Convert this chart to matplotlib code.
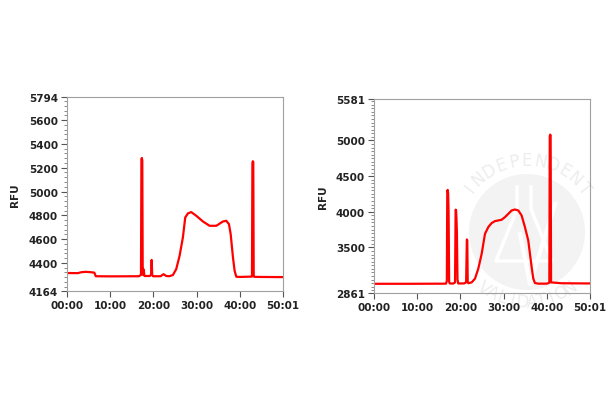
import numpy as np
import matplotlib.pyplot as plt
from matplotlib.patches import Circle
from matplotlib.ticker import MultipleLocator

# time in seconds, RFU values
t_left = [0, 150, 200, 260, 330, 380, 400, 600, 1000, 1028, 1034, 1040, 1046, 1052, 1060, 1068,
          1076, 1150, 1168, 1176, 1184, 1195, 1300, 1340, 1360, 1380, 1420, 1471, 1517, 1564,
          1610, 1643, 1680, 1726, 1796, 1889, 1981, 2074, 2167, 2213, 2250, 2274, 2306, 2329,
          2352, 2400, 2570, 2576, 2582, 2588, 2594, 2602, 2700, 2900, 3001]
y_left = [4315, 4314, 4322, 4325, 4322, 4318, 4288, 4287, 4288, 4300, 5270, 5282, 5260, 4300,
          4350, 4330, 4290, 4290, 4300, 4425, 4300, 4288, 4288, 4305, 4298, 4290, 4288, 4298,
          4347, 4459, 4614, 4782, 4816, 4827, 4796, 4748, 4712, 4712, 4748, 4754, 4726, 4642,
          4445, 4333, 4284, 4282, 4285, 5240, 5254, 5250, 4290, 4283, 4282, 4281, 4281]

t_right = [0, 500, 1000, 1012, 1018, 1024, 1030, 1036, 1044, 1052, 1100, 1126, 1134, 1140,
           1146, 1152, 1160, 1170, 1250, 1280, 1290, 1296, 1302, 1310, 1357, 1403, 1449, 1496,
           1542, 1588, 1634, 1681, 1727, 1773, 1820, 1866, 1912, 1958, 2005, 2051, 2097, 2143,
           2190, 2213, 2236, 2283, 2400, 2436, 2442, 2448, 2454, 2460, 2600, 2800, 3001]
y_right = [2990, 2990, 2992, 3030, 4290, 4307, 4260, 4000, 3020, 2995, 2993, 3010, 4030,
           4020, 3900, 3700, 3050, 2995, 2995, 3010, 3612, 3600, 3020, 2998, 3010, 3062, 3202,
           3411, 3691, 3785, 3841, 3869, 3878, 3888, 3925, 3971, 4018, 4032, 4018, 3948, 3785,
           3598, 3225, 3062, 3001, 2992, 2992, 3005, 5060, 5082, 5070, 3010, 2998, 2996, 2995]

x_ticks = [0, 600, 1200, 1800, 2400, 3001]
x_labels = ['00:00', '10:00', '20:00', '30:00', '40:00', '50:01']
yt_left = [4164, 4400, 4600, 4800, 5000, 5200, 5400, 5600, 5794]
yt_right = [2861, 3500, 4000, 4500, 5000, 5581]

plt.rcParams['font.family'] = 'DejaVu Sans'
plt.rcParams['font.weight'] = 'bold'

W = 610.0
H = 410.0
fig = plt.figure(figsize=(W / 100, H / 100), dpi=100)

# faint watermark behind the right chart (pixel coordinates from bottom left)
cx, cy, r = 527, 410 - 233, 58
fig.patches.append(Circle((cx / 100, cy / 100), r / 100, transform=fig.dpi_scale_trans,
                          facecolor='#f3f3f3', edgecolor='none', zorder=-5))
# flask and V inside the circle, white
flask_x = [517, 517, 496, 552, 531, 531]
flask_y = [188, 210, 262, 262, 210, 188]
fig.lines.append(plt.Line2D([x / W for x in flask_x], [1 - y / H for y in flask_y],
                            transform=fig.transFigure, color='white', lw=2.5, zorder=-4))
fig.lines.append(plt.Line2D([520 / W, 530 / W, 555 / W], [1 - 235 / H, 1 - 285 / H, 1 - 205 / H],
                            transform=fig.transFigure, color='white', lw=3, zorder=-4))


def arc_text(txt, radius, a0, a1, top=True):
    n = len(txt)
    for i, ch in enumerate(txt):
        a = np.radians(a0 + (a1 - a0) * i / (n - 1))
        x = cx + radius * np.cos(a)
        y = cy + radius * np.sin(a)
        rot = np.degrees(a) - 90 if top else np.degrees(a) + 90
        fig.text(x / W, y / H, ch, rotation=rot, ha='center', va='center',
                 fontsize=12, fontweight='normal', color='#ededed', zorder=-4)


arc_text('INDEPENDENT', 72, 142, 38, top=True)
arc_text('VALIDATION', 70, 232, 308, top=False)


def style_axes(ax, yt, minor):
    ax.set_facecolor('none')
    for s in ax.spines.values():
        s.set_color('#a0a0a0')
        s.set_linewidth(0.8)
    ax.set_xlim(0, 3001)
    ax.set_ylim(yt[0], yt[-1])
    ax.set_xticks(x_ticks)
    ax.set_xticklabels(x_labels)
    ax.set_yticks(yt)
    ax.yaxis.set_minor_locator(MultipleLocator(minor))
    ax.tick_params(axis='both', which='major', direction='out', length=4.5, width=0.8,
                   color='#555555', labelsize=7.5, labelcolor='#222222', pad=2)
    ax.tick_params(axis='y', which='minor', direction='out', length=2.2, width=0.6,
                   color='#777777')
    ax.set_ylabel('RFU', fontsize=7.5, fontweight='bold', color='#222222', labelpad=6)


ax1 = fig.add_axes([67 / W, 118 / H, 216 / W, 194 / H])
ax1.plot(t_left, y_left, color='#ff0000', lw=1.6)
style_axes(ax1, yt_left, 40)

ax2 = fig.add_axes([374 / W, 116 / H, 216 / W, 194 / H])
ax2.plot(t_right, y_right, color='#ff0000', lw=1.6)
style_axes(ax2, yt_right, 50)

fig.savefig('out.png', dpi=100)
